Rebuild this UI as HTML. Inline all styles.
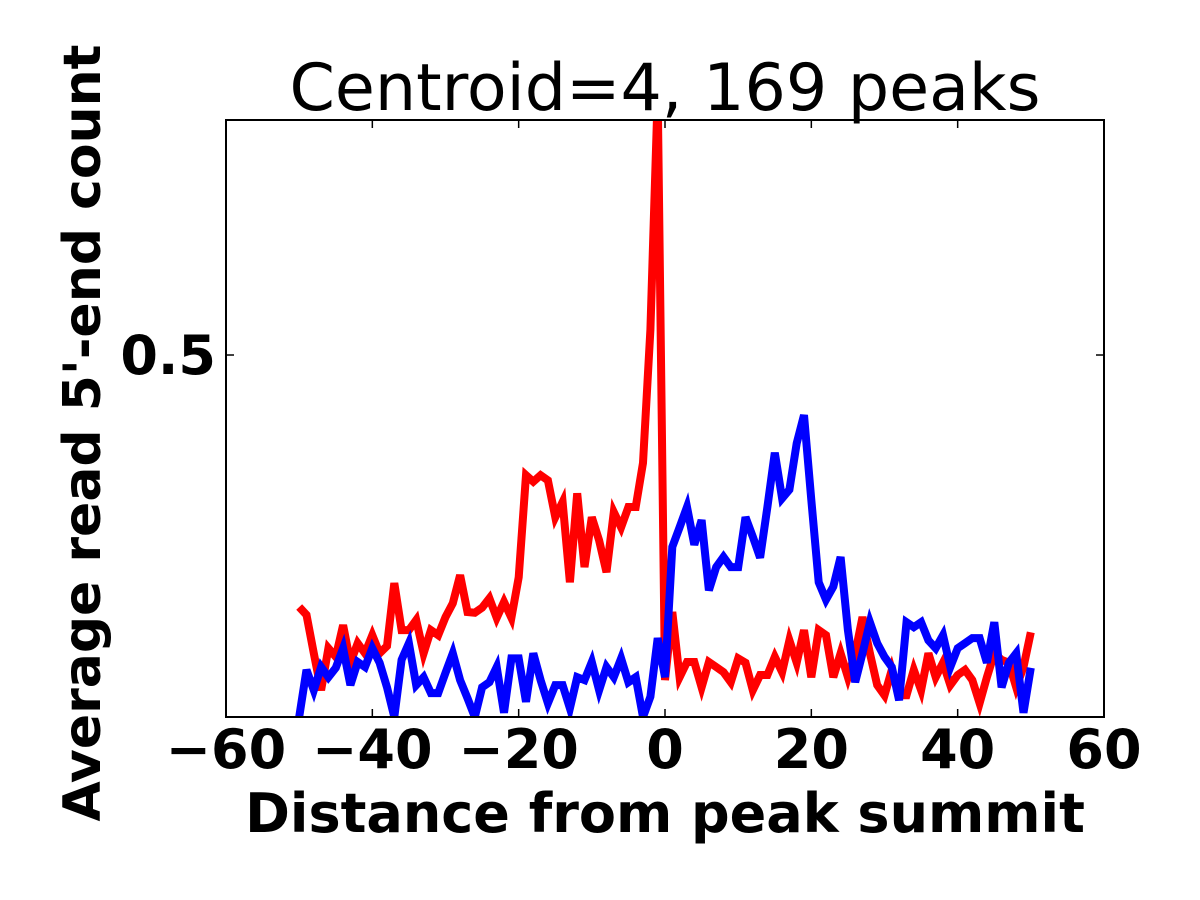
<!DOCTYPE html>
<html><head><meta charset="utf-8"><style>
html,body{margin:0;padding:0;background:#fff}
svg{display:block}
text{font-family:"DejaVu Sans","Liberation Sans",sans-serif}
</style></head><body>
<svg id="chart" width="1200" height="900" xmlns="http://www.w3.org/2000/svg">
<defs><clipPath id="clip"><rect x="226" y="120" width="878" height="597"/></clipPath></defs>
<rect x="0" y="0" width="1200" height="900" fill="#fff"/>
<text x="665" y="110" font-size="65" text-anchor="middle">Centroid=4, 169 peaks</text>
<g id="series" clip-path="url(#clip)"></g>
<rect x="226" y="120" width="878" height="597" fill="none" stroke="#000" stroke-width="2"/>
<g id="axes"></g>
<text x="665" y="832" font-size="54" font-weight="bold" text-anchor="middle">Distance from peak summit</text>
<text transform="translate(100,433) rotate(-90)" font-size="52" font-weight="bold" text-anchor="middle">Average read 5'-end count</text>
</svg>
<script>
const xPositions = [];
for (let i = -50; i <= 50; i++) xPositions.push(i);
const redValues = [0.152,0.141,0.088,0.037,0.095,0.083,0.127,0.075,0.102,0.088,0.113,0.088,0.098,0.185,0.120,0.120,0.134,0.088,0.120,0.113,0.138,0.157,0.196,0.145,0.144,0.151,0.164,0.137,0.159,0.137,0.193,0.334,0.325,0.334,0.327,0.276,0.297,0.186,0.309,0.207,0.276,0.244,0.200,0.283,0.262,0.290,0.290,0.351,0.535,0.86,0.051,
0.145,0.055,0.076,0.076,0.041,0.076,0.069,0.062,0.048,0.081,0.075,0.037,0.058,0.058,0.083,0.062,0.106,0.075,0.120,0.055,0.120,0.113,0.055,0.088,0.055,0.088,0.138,0.088,0.044,0.030,0.065,0.030,0.030,0.065,0.037,0.088,0.055,0.075,0.044,0.058,0.065,0.051,0.019,0.055,0.088,0.079,0.075,0.041,0.069,0.117];
const blueValues = [0.0,0.065,0.037,0.069,0.055,0.068,0.095,0.044,0.076,0.069,0.095,0.075,0.041,0.0,0.079,0.102,0.044,0.055,0.033,0.033,0.061,0.088,0.051,0.026,0.0,0.041,0.048,0.069,0.006,0.081,0.081,0.021,0.088,0.051,0.019,0.044,0.044,0.012,0.055,0.051,0.076,0.037,0.069,0.055,0.081,0.048,0.055,0.0,0.028,0.109,0.055,
0.235,0.262,0.290,0.238,0.272,0.175,0.207,0.221,0.207,0.207,0.276,0.249,0.220,0.290,0.365,0.302,0.314,0.378,0.417,0.300,0.186,0.162,0.180,0.221,0.120,0.048,0.088,0.131,0.102,0.083,0.069,0.023,0.131,0.124,0.131,0.106,0.095,0.113,0.069,0.095,0.102,0.109,0.109,0.075,0.131,0.041,0.075,0.088,0.006,0.068];
const xTicks = [-60,-40,-20,0,20,40,60];
const xTickLabels = ["\u221260","\u221240","\u221220","0","20","40","60"];
const yTicks = [0.5];
const yTickLabels = ["0.5"];

const X0=226,X1=1104,Y0=717,Y1=120, xMin=-60,xMax=60,yMin=0,yMax=0.8246;
const sx = v => X0 + (v - xMin) / (xMax - xMin) * (X1 - X0);
const sy = v => Y0 - (v - yMin) / (yMax - yMin) * (Y0 - Y1);
const NS="http://www.w3.org/2000/svg";
const series=document.getElementById('series');
function line(vals,color,name){
  const p=document.createElementNS(NS,'polyline');
  p.setAttribute('points',vals.map((v,i)=>sx(xPositions[i]).toFixed(1)+','+sy(v).toFixed(1)).join(' '));
  p.setAttribute('fill','none');p.setAttribute('stroke',color);p.setAttribute('stroke-width','8');
  p.setAttribute('stroke-linejoin','miter');
  
  
  series.appendChild(p);
}
line(redValues,'#ff0000','red-series-line');
line(blueValues,'#0000ff','blue-series-line');
const axes=document.getElementById('axes');
xTicks.forEach((t,i)=>{
  const x=sx(t);
  [[Y0,Y0-8],[Y1,Y1+8]].forEach(([a,b])=>{
    const l=document.createElementNS(NS,'line');
    l.setAttribute('x1',x);l.setAttribute('x2',x);l.setAttribute('y1',a);l.setAttribute('y2',b);
    l.setAttribute('stroke','#000');l.setAttribute('stroke-width','1.5');
    
    
    axes.appendChild(l);
  });
  const tx=document.createElementNS(NS,'text');
  tx.setAttribute('x',x);tx.setAttribute('y',768);tx.setAttribute('font-size','54');
  tx.setAttribute('font-weight','bold');tx.setAttribute('text-anchor','middle');
  tx.textContent=xTickLabels[i];
  
  
  axes.appendChild(tx);
});
yTicks.forEach((t,i)=>{
  const y=sy(t);
  [[X0,X0+8],[X1,X1-8]].forEach(([a,b])=>{
    const l=document.createElementNS(NS,'line');
    l.setAttribute('x1',a);l.setAttribute('x2',b);l.setAttribute('y1',y);l.setAttribute('y2',y);
    l.setAttribute('stroke','#000');l.setAttribute('stroke-width','1.5');
    
    
    axes.appendChild(l);
  });
  const tx=document.createElementNS(NS,'text');
  tx.setAttribute('x',216);tx.setAttribute('y',y+19);tx.setAttribute('font-size','54');
  tx.setAttribute('font-weight','bold');tx.setAttribute('text-anchor','end');
  tx.textContent=yTickLabels[i];
  
  
  axes.appendChild(tx);
});
</script>
</body></html>
